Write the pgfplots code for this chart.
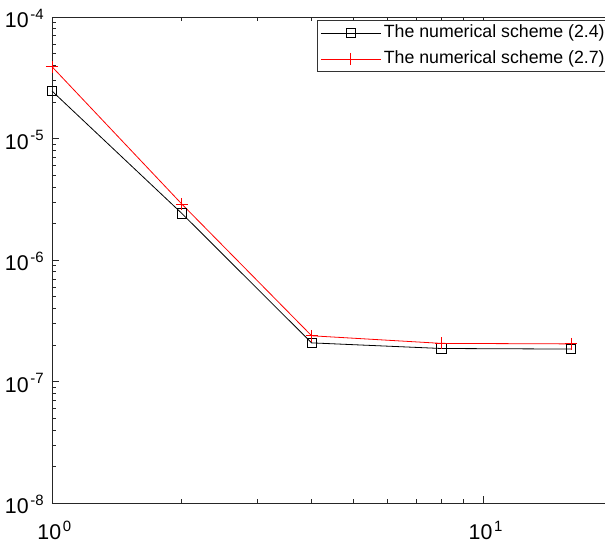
\documentclass[border=0pt]{standalone}
\usepackage{fontspec}
\setmainfont{Liberation Sans}
\usepackage{pgfplots}
\pgfplotsset{compat=1.18}
\newcommand{\tenpow}[1]{10\kern1.3pt\textsuperscript{#1}}
\begin{document}
\begin{tikzpicture}
\begin{loglogaxis}[name=ax,
 scale only axis, width=420.75pt, height=364.5pt,
 xmin=1, xmax=20, ymin=1e-8, ymax=1e-4,
 xtick={1,10}, xticklabels={\tenpow{0},\tenpow{1}},
 ytick={1e-8,1e-7,1e-6,1e-5,1e-4},
 yticklabels={\tenpow{-8},\tenpow{-7},\tenpow{-6},\tenpow{-5},\tenpow{-4}},
 tick align=inside, major tick length=5pt, minor tick length=3pt,
 tick style={black!85, line width=0.5pt},
 axis line style={black!85, line width=0.6pt},
 ticklabel style={font=\fontsize{16}{19}\selectfont},
 yticklabel style={anchor=base east, yshift=-8pt, inner xsep=5.5pt},
 xticklabel style={anchor=base, yshift=-27.5pt, xshift=2pt},
 legend style={at={(rel axis cs:1,1)}, anchor=north east, xshift=-2pt, yshift=-2.25pt,
   draw=black!80, line width=0.5pt, font=\fontsize{13.3}{16}\selectfont,
   cells={anchor=west}, inner xsep=2pt, inner ysep=0pt, row sep=0pt,
   nodes={text height=9.5pt, text depth=3pt, inner ysep=3.4pt}},
 legend image code/.code={\draw[mark repeat=2,mark phase=2,#1] plot coordinates {(0pt,0pt) (22.5pt,0pt) (45pt,0pt)};},
]
\addplot[black, line width=0.6pt, mark=square, mark size=3.5pt, mark options={solid}]
 coordinates {(1,2.46e-5)(2,2.42e-6)(4,2.08e-7)(8,1.87e-7)(16,1.85e-7)};
\addplot[red, line width=0.6pt, mark=+, mark size=4.5pt]
 coordinates {(1,3.9e-5)(2,2.89e-6)(4,2.38e-7)(8,2.06e-7)(16,2.04e-7)};
\legend{The numerical scheme (2.4), The numerical scheme (2.7)}
\end{loglogaxis}
\pgfresetboundingbox
\path ([xshift=-39pt,yshift=-30pt]ax.south west) rectangle ([xshift=-6pt,yshift=12.75pt]ax.north east);
\end{tikzpicture}
\end{document}
